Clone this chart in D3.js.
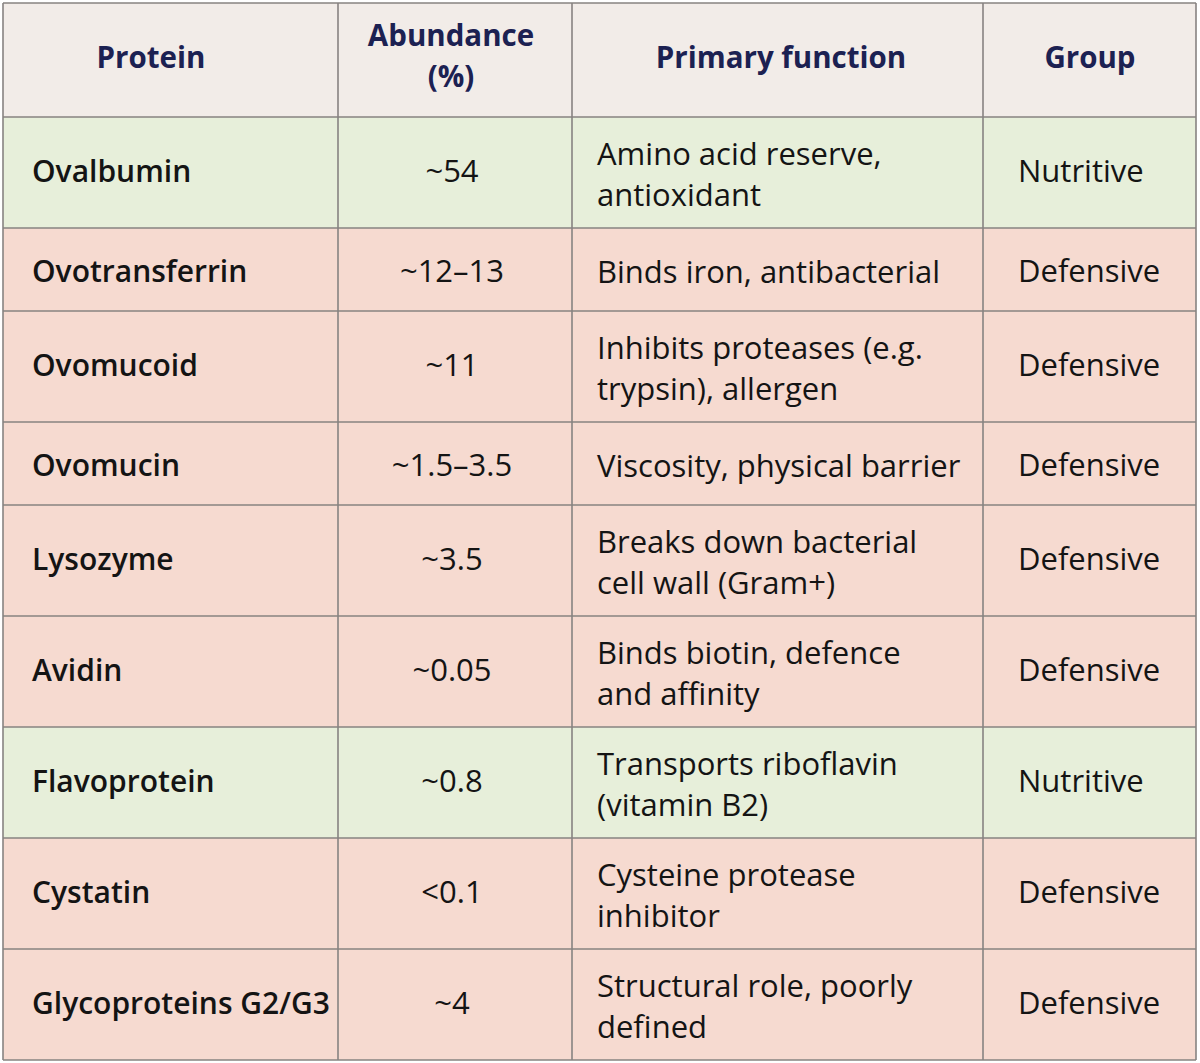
<!DOCTYPE html>
<html>
<head>
<meta charset="utf-8">
<script src="https://cdn.jsdelivr.net/npm/d3@7"></script>
<style>
  html, body { margin: 0; padding: 0; background: #ffffff; }
  svg { display: block; }
</style>
</head>
<body>
<div id="chart"></div>
<script>
// table data
var headers = [["Protein"], ["Abundance", "(%)"], ["Primary function"], ["Group"]];
var proteins = ["Ovalbumin", "Ovotransferrin", "Ovomucoid", "Ovomucin", "Lysozyme",
  "Avidin", "Flavoprotein", "Cystatin", "Glycoproteins G2/G3"];
var abundance = ["~54", "~12\u201313", "~11", "~1.5\u20133.5", "~3.5", "~0.05", "~0.8", "<0.1", "~4"];
var functions = [
  ["Amino acid reserve,", "antioxidant"],
  ["Binds iron, antibacterial"],
  ["Inhibits proteases (e.g.", "trypsin), allergen"],
  ["Viscosity, physical barrier"],
  ["Breaks down bacterial", "cell wall (Gram+)"],
  ["Binds biotin, defence", "and affinity"],
  ["Transports riboflavin", "(vitamin B2)"],
  ["Cysteine protease", "inhibitor"],
  ["Structural role, poorly", "defined"]
];
var groups = ["Nutritive", "Defensive", "Defensive", "Defensive", "Defensive",
  "Defensive", "Nutritive", "Defensive", "Defensive"];

var w = 1200, h = 1063;
var x0 = 3, headH = 114, oneLine = 83, twoLine = 111, lineGap = 41;
var colEdges = [3, 338, 572, 983, 1196];
var fs = "31px";

var fill = d3.scaleOrdinal()
  .domain(["Nutritive", "Defensive"])
  .range(["#e7efda", "#f6dad0"]);

var rows = proteins.map(function(p, i) {
  return { protein: p, abundance: abundance[i], func: functions[i], group: groups[i] };
});
var y = 3 + headH;
rows.forEach(function(r) {
  r.y = y;
  r.h = r.func.length > 1 ? twoLine : oneLine;
  r.base = r.h / 2 + (r.func.length > 1 ? 9 : 12);
  y += r.h;
});
var bottom = y;

var svg = d3.select("#chart")
  .append("svg")
  .attr("width", w)
  .attr("height", h)
  .style("font-family", "'Open Sans', Lato, sans-serif");

// header
svg.append("rect")
  .attr("x", x0).attr("y", 3)
  .attr("width", colEdges[4] - x0).attr("height", headH)
  .style("fill", "#f2ece8");

var headX = [151, 451, 781, 1090];
headers.forEach(function(lines, c) {
  var t = svg.append("text")
    .attr("x", headX[c])
    .attr("text-anchor", "middle")
    .style("font-size", "29.5px")
    .style("font-weight", "bold")
    .style("fill", "#1c2152");
  lines.forEach(function(l, k) {
    t.append("tspan")
      .attr("x", headX[c])
      .attr("y", (lines.length > 1 ? 66.5 : 68) + (k - (lines.length - 1) / 2) * 41)
      .text(l);
  });
});

// body rows
var g = svg.selectAll("g.row")
  .data(rows)
  .enter()
  .append("g")
  .attr("class", "row")
  .attr("transform", function(d) { return "translate(0," + d.y + ")"; });

g.append("rect")
  .attr("x", x0)
  .attr("width", colEdges[4] - x0)
  .attr("height", function(d) { return d.h; })
  .style("fill", function(d) { return fill(d.group); });

g.append("text")
  .attr("x", 32)
  .attr("y", function(d) { return d.base; })
  .style("font-size", "30px")
  .style("font-weight", 600)
  .style("fill", "#141414")
  .text(function(d) { return d.protein; });

g.append("text")
  .attr("x", 452)
  .attr("y", function(d) { return d.base; })
  .attr("text-anchor", "middle")
  .style("font-size", fs)
  .style("fill", "#141414")
  .text(function(d) { return d.abundance; });

g.append("text")
  .style("font-size", fs)
  .style("fill", "#141414")
  .selectAll("tspan")
  .data(function(d) {
    return d.func.map(function(l, k) {
      return { text: l, y: d.h / 2 + 13 + (k - (d.func.length - 1) / 2) * lineGap };
    });
  })
  .enter()
  .append("tspan")
  .attr("x", 597)
  .attr("y", function(d) { return d.y; })
  .text(function(d) { return d.text; });

g.append("text")
  .attr("x", 1018)
  .attr("y", function(d) { return d.base; })
  .style("font-size", fs)
  .style("fill", "#141414")
  .text(function(d) { return d.group; });

// grid lines
var hLines = [3, 3 + headH].concat(rows.map(function(r) { return r.y + r.h; }));
svg.selectAll("line.h")
  .data(hLines)
  .enter()
  .append("line")
  .attr("x1", x0).attr("x2", colEdges[4])
  .attr("y1", function(d) { return d; })
  .attr("y2", function(d) { return d; })
  .style("stroke", "#878381")
  .style("stroke-width", 1.6);

svg.selectAll("line.v")
  .data(colEdges)
  .enter()
  .append("line")
  .attr("x1", function(d) { return d; })
  .attr("x2", function(d) { return d; })
  .attr("y1", 3).attr("y2", bottom)
  .style("stroke", "#878381")
  .style("stroke-width", 1.6);
</script>
</body>
</html>
